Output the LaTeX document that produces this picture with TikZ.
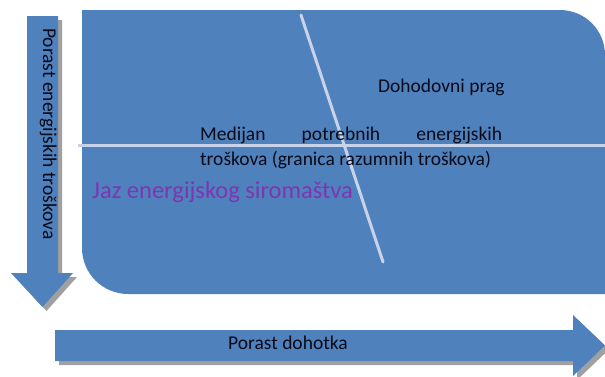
\documentclass[tikz,border=0pt]{standalone}
\usepackage{fontspec}
\setmainfont{Carlito}
\definecolor{mainblue}{HTML}{4F81BD}
\definecolor{lineblue}{HTML}{C8D3EA}
\definecolor{shadowgray}{HTML}{A0A0A0}
\definecolor{jazpurple}{HTML}{7F35B2}
\definecolor{txtdark}{HTML}{0A0A18}
\begin{document}
\begin{tikzpicture}[x=1pt,y=1pt,
  txt/.style={font=\fontsize{19.5}{22}\selectfont, text=txtdark, inner sep=0pt},
  guide/.style={draw=lineblue, line width=3pt},
  arrowshape/.style={fill=mainblue},
  shadowshape/.style={fill=shadowgray}]
\useasboundingbox (0,0) rectangle (605,376);
% main area
\fill[mainblue] (82,366) -- (560,366) arc[start angle=90,end angle=0,radius=45] -- (605,82)
  -- (128,82) arc[start angle=270,end angle=180,radius=46] -- cycle;
% guide lines
\coordinate (hl) at (78,231);
\coordinate (hr) at (605,231);
\coordinate (dt) at (301,361);
\coordinate (db) at (383,114);
\draw[guide] (hl) -- (hr);
\draw[guide, line cap=round] (dt) -- (db);
% vertical arrow
\begin{scope}[shift={(4,-4)}]
\fill[shadowshape] (27,360) -- (58,360) -- (58,103) -- (73,103) -- (42.5,69) -- (11,103) -- (27,103) -- cycle;
\end{scope}
\fill[arrowshape] (27,360) -- (58,360) -- (58,103) -- (73,103) -- (42.5,69) -- (11,103) -- (27,103) -- cycle;
% horizontal arrow
\begin{scope}[shift={(4,-4)}]
\fill[shadowshape] (55,46) -- (573,46) -- (573,61) -- (605,30.5) -- (573,0) -- (573,15) -- (55,15) -- cycle;
\end{scope}
\fill[arrowshape] (55,46) -- (573,46) -- (573,61) -- (605,30.5) -- (573,0) -- (573,15) -- (55,15) -- cycle;
% texts
\node[txt, rotate=-90, anchor=base west] (vt) at (43,348) {Porast energijskih troškova};
\node[txt, anchor=base west] (ht) at (228,27) {Porast dohotka};
\node[txt, anchor=base west] (dp) at (378,284) {Dohodovni prag};
\node[txt, anchor=base west] (m1) at (200,236) {\makebox[302pt][s]{Medijan potrebnih energijskih}};
\node[txt, anchor=base west] (m2) at (200,211) {troškova (granica razumnih troškova)};
\node[txt, anchor=base west, font=\fontsize{24.5}{28}\selectfont, text=jazpurple] (jaz) at (92,178) {Jaz energijskog siromaštva};
\end{tikzpicture}
\end{document}
